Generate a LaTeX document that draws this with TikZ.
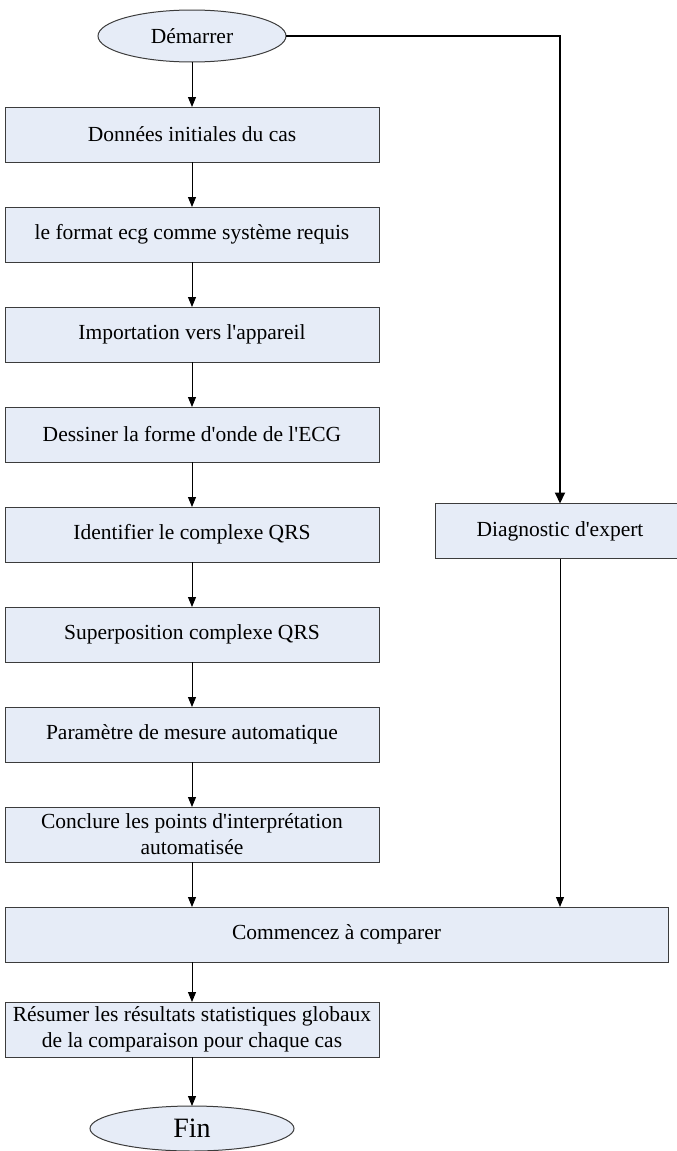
\documentclass[tikz,border=0pt]{standalone}
\usepackage{fontspec}
\setmainfont{Liberation Serif}[Ligatures=TeXOff]
\usetikzlibrary{shapes.geometric, arrows.meta, positioning}
\definecolor{boxfill}{RGB}{230,236,247}
\definecolor{boxline}{RGB}{60,60,60}
\tikzset{
    base/.style={draw=boxline, line width=1pt, align=center, fill=boxfill, font=\fontsize{21.5}{26}\selectfont, inner sep=0pt, outer sep=0pt},
    stepbox/.style={base, rectangle, minimum width=374pt, minimum height=55pt},
    terminal/.style={base, ellipse, minimum width=188pt, minimum height=52pt},
    arrow/.style={-{Triangle[length=10pt,width=8pt]}, line width=1pt, draw=black},
    mainarrow/.style={-{Triangle[length=11pt,width=10pt]}, line width=2pt, draw=black}
}

\begin{document}
\begin{tikzpicture}[x=1pt, y=1pt, node distance=45pt]
    \useasboundingbox (0,0) rectangle (677,-1151);
    \node (start) [terminal] at (192,-36) {Démarrer};
    \node (init) [stepbox, below=of start] {Données initiales du cas};
    \node (format) [stepbox, below=of init] {le format ecg comme système requis};
    \node (import) [stepbox, below=of format] {Importation vers l'appareil};
    \node (wave) [stepbox, below=of import] {Dessiner la forme d'onde de l'ECG};
    \node (qrs) [stepbox, below=of wave] {Identifier le complexe QRS};
    \node (overlay) [stepbox, below=of qrs] {Superposition complexe QRS};
    \node (measure) [stepbox, below=of overlay] {Paramètre de mesure automatique};
    \node (concl) [stepbox, below=of measure] {Conclure les points d'interprétation \\ automatisée};
    \node (comp) [stepbox, minimum width=663pt, below=of concl.south west, anchor=north west] {Commencez à comparer};
    \node (summary) [stepbox, below=40pt of concl |- comp.south] {Résumer les résultats statistiques globaux \\ de la comparaison pour chaque cas};
    \node (fin) [terminal, minimum width=204pt, minimum height=45pt, font=\fontsize{28}{32}\selectfont, below=49pt of summary] {Fin};
    \node (expert) [stepbox, minimum width=250pt] at (560,-531) {Diagnostic d'expert};

    \draw [arrow] (start) -- (init);
    \draw [arrow] (init) -- (format);
    \draw [arrow] (format) -- (import);
    \draw [arrow] (import) -- (wave);
    \draw [arrow] (wave) -- (qrs);
    \draw [arrow] (qrs) -- (overlay);
    \draw [arrow] (overlay) -- (measure);
    \draw [arrow] (measure) -- (concl);
    \draw [arrow] (concl) -- (concl |- comp.north);
    \draw [arrow] (concl |- comp.south) -- (summary);
    \draw [arrow] (summary) -- (fin);
    \draw [mainarrow] (start) -| (expert);
    \draw [arrow] (expert) -- (expert |- comp.north);
\end{tikzpicture}
\end{document}
